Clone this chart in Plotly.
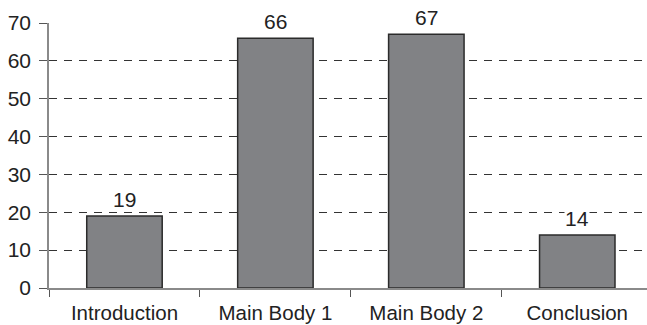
import plotly.graph_objects as go

# Share of content per section
sections = ["Introduction", "Main Body 1", "Main Body 2", "Conclusion"]
values = [19, 66, 67, 14]
y_ticks = [0, 10, 20, 30, 40, 50, 60, 70]

font_family = "Liberation Sans, Arial, sans-serif"

fig = go.Figure()
fig.add_trace(go.Bar(
    x=sections,
    y=values,
    marker=dict(color="#818285", line=dict(color="#2b2b2b", width=1.5)),
    width=0.5,
    hoverinfo="skip",
))

# Value labels above each bar, on a white backing so the gridlines break around them
for s, v in zip(sections, values):
    fig.add_annotation(
        x=s, y=v, text=str(v), showarrow=False,
        yanchor="bottom", yshift=4,
        font=dict(family=font_family, size=21, color="#222222"),
        bgcolor="white", borderpad=0,
    )

fig.update_layout(
    width=647, height=325,
    margin=dict(l=49, r=0, t=23, b=37),
    paper_bgcolor="white", plot_bgcolor="white",
    showlegend=False,
    font=dict(family=font_family, size=21, color="#222222"),
)

fig.update_xaxes(
    type="category",
    range=[-0.5, 3.462],
    showgrid=False,
    showline=True, linecolor="#8a8a8a", linewidth=1.5,
    ticks="outside", tickson="boundaries", ticklen=7,
    tickcolor="#555555", tickwidth=1,
    ticklabelstandoff=6,
    tickfont=dict(family=font_family, size=20.5, color="#222222"),
)

fig.update_yaxes(
    range=[0, 70],
    tickvals=y_ticks,
    showgrid=True, gridcolor="#333333", gridwidth=1, griddash="8px,7px",
    zeroline=False,
    showline=True, linecolor="#8a8a8a", linewidth=1.5,
    ticks="outside", ticklen=8, tickcolor="#555555", tickwidth=1,
    ticklabelstandoff=4,
    tickfont=dict(family=font_family, size=21, color="#222222"),
)

fig.write_html("out.html")
